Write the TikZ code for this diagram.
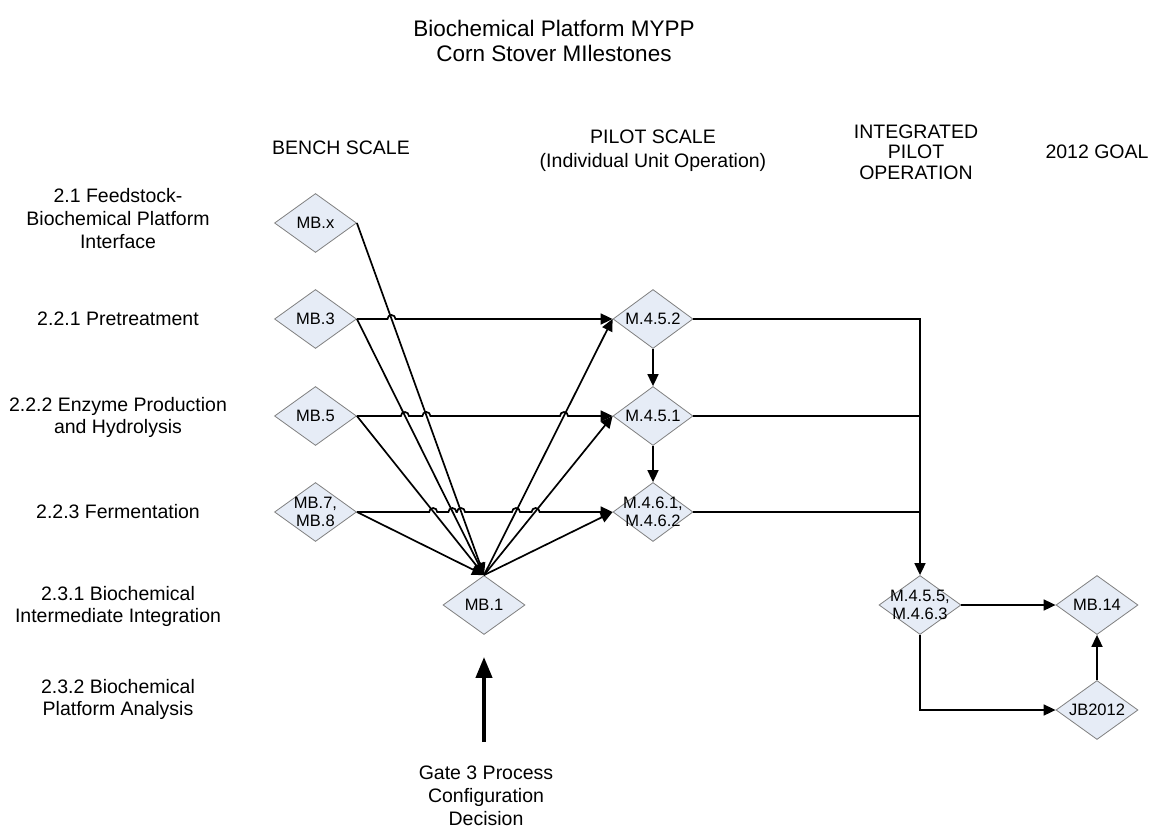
\documentclass[tikz,border=0pt]{standalone}
\usepackage{fontspec}
\setmainfont{Liberation Sans}
\usetikzlibrary{shapes.geometric,arrows.meta}
\definecolor{diafill}{HTML}{E6ECF6}
\begin{document}
\begin{tikzpicture}[x=1pt,y=1pt,
  dia/.style={diamond, draw=black!50, line width=0.8pt, fill=diafill,
    minimum width=82pt, minimum height=59pt, inner sep=0pt},
  dtext/.style={font=\fontsize{16.5}{18.5}\selectfont, align=center, inner sep=0pt},
  lbl/.style={font=\fontsize{19.5}{22}\selectfont, align=center, inner sep=0pt},
  conn/.style={line width=1.7pt},
  arr/.style={conn, -{Triangle[length=12pt,width=11pt]}},
]
\fill[white] (0,0) rectangle (1159,-829);
\useasboundingbox (0,0) rectangle (1159,-829);

% titles and headers
\node[lbl, font=\fontsize{22.5}{25}\selectfont] (title) at (554,-40.5) {Biochemical Platform MYPP\\Corn Stover MIlestones};
\node[lbl] (hbench) at (341,-148) {BENCH SCALE};
\node[lbl, font=\fontsize{19.5}{24}\selectfont] (hpilot) at (653,-150.5) {PILOT SCALE\\(Individual Unit Operation)};
\node[lbl, font=\fontsize{19.5}{20.5}\selectfont] (hint) at (916,-152) {INTEGRATED\\PILOT\\OPERATION};
\node[lbl] (hgoal) at (1097,-152) {2012 GOAL};

% row labels
\node[lbl, font=\fontsize{19.5}{23}\selectfont] (lfeed) at (118,-219) {2.1 Feedstock-\\Biochemical Platform\\Interface};
\node[lbl] (lpre) at (118,-319) {2.2.1 Pretreatment};
\node[lbl] (lenz) at (118,-417) {2.2.2 Enzyme Production\\and Hydrolysis};
\node[lbl] (lfer) at (118,-512) {2.2.3 Fermentation};
\node[lbl] (lbii) at (118,-606) {2.3.1 Biochemical\\Intermediate Integration};
\node[lbl] (lbpa) at (118,-699) {2.3.2 Biochemical\\Platform Analysis};

% diamonds
\node[dia] (MBx) at (315.5,-223) {};
\node[dtext] (MBxt) at (MBx) {MB.x};
\node[dia] (MB3) at (315.5,-319) {};
\node[dtext] (MB3t) at (MB3) {MB.3};
\node[dia] (MB5) at (315.5,-416) {};
\node[dtext] (MB5t) at (MB5) {MB.5};
\node[dia] (MB7) at (315.5,-512) {};
\node[dtext] (MB7t) at (MB7) {MB.7,\\MB.8};
\node[dia] (MB1) at (484,-605) {};
\node[dtext] (MB1t) at (MB1) {MB.1};

\node[dia, minimum width=80pt] (M452) at (653,-319) {};
\node[dtext] (M452t) at (M452) {M.4.5.2};
\node[dia, minimum width=80pt] (M451) at (653,-416) {};
\node[dtext] (M451t) at (M451) {M.4.5.1};
\node[dia, minimum width=80pt] (M461) at (653,-512) {};
\node[dtext] (M461t) at (M461) {M.4.6.1,\\M.4.6.2};

\node[dia] (M455) at (920,-605) {};
\node[dtext] (M455t) at (M455) {M.4.5.5,\\M.4.6.3};
\node[dia] (MB14) at (1097,-605) {};
\node[dtext] (MB14t) at (MB14) {MB.14};
\node[dia] (JB) at (1097,-710) {};
\node[dtext] (JBt) at (JB) {JB2012};

% gate
\node[lbl, font=\fontsize{19.5}{23}\selectfont] (gate) at (486,-796) {Gate 3 Process\\Configuration\\Decision};
\coordinate (gatebase) at (484,-742);
\draw[line width=4pt, -{Triangle[length=21pt,width=16pt]}, shorten >=22pt] (gatebase) -- (MB1.south);

% diagonal connectors into MB.1
\draw[arr] (MBx.east) -- (MB1.north);
\draw[arr] (MB3.east) -- (MB1.north);
\draw[arr] (MB5.east) -- (MB1.north);
\draw[arr] (MB7.east) -- (MB1.north);

% from MB.1 to pilot
\draw[arr] (MB1.north) -- (M452.west);
\draw[arr] (MB1.north) -- (M451.west);
\draw[arr] (MB1.north) -- (M461.west);

% horizontal connectors with line hops
\draw[arr] (MB3.east) -- (387.5,0 |- MB3.east) arc[start angle=180,end angle=0,radius=4]
  -- (M452.west);
\draw[arr] (MB5.east) -- (400.9,0 |- MB5.east) arc[start angle=180,end angle=0,radius=4]
  -- (422.4,0 |- MB5.east) arc[start angle=180,end angle=0,radius=4]
  -- (560,0 |- MB5.east) arc[start angle=180,end angle=0,radius=4]
  -- (M451.west);
\draw[arr] (MB7.east) -- (429.2,0 |- MB7.east) arc[start angle=180,end angle=0,radius=4]
  -- (448.4,0 |- MB7.east) arc[start angle=180,end angle=0,radius=4]
  -- (457,0 |- MB7.east) arc[start angle=180,end angle=0,radius=4]
  -- (512,0 |- MB7.east) arc[start angle=180,end angle=0,radius=4]
  -- (531.6,0 |- MB7.east) arc[start angle=180,end angle=0,radius=4]
  -- (M461.west);

% pilot column
\draw[arr] (M452.south) -- (M451.north);
\draw[arr] (M451.south) -- (M461.north);

% to integrated
\draw[arr] (M452.east) -| (M455.north);
\draw[conn] (M451.east) -- (M451.east -| M455.north);
\draw[conn] (M461.east) -- (M461.east -| M455.north);

% to goal
\draw[arr] (M455.east) -- (MB14.west);
\draw[arr] (M455.south) |- (JB.west);
\draw[arr] (JB.north) -- (MB14.south);
\end{tikzpicture}
\end{document}
